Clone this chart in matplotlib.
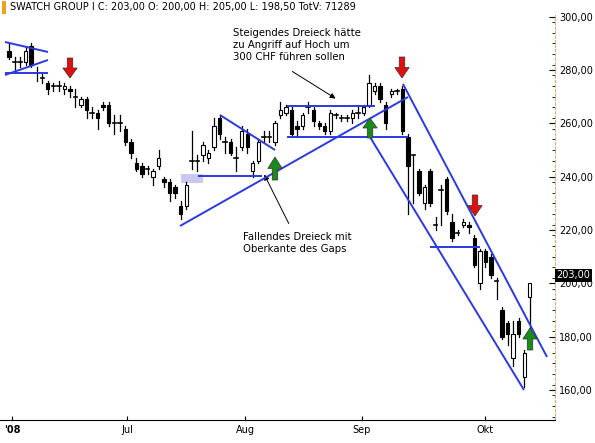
import matplotlib
matplotlib.use("Agg")
import matplotlib.pyplot as plt
from matplotlib.patches import Rectangle, FancyArrow
import numpy as np

opens = [287,283,283,283,289,279,277,275,274,274,273,273,270,267,269,264,264,267,267,260,260,258,253,245,244,243,240,244,239,238,236,229,229,246,246,248,247,251,262,253,253,247,251,256,242,246,255,255,253,263,264,265,259,
         259,266,265,260,259,257,263,262,262,262,264,264,267,272,274,267,271,272,273,255,248,242,230,242,222,235,239,223,219,222,222,217,200,212,210,201,190,185,172,186,165,195]
closes = [285,283,283,287,282,279,277,273,274,274,274,272,270,269,265,264,262,266,260,260,260,253,249,243,241,243,242,247,238,234,234,226,237,246,246,252,249,259,256,253,249,247,257,251,245,253,255,255,260,265,266,256,258,
          263,266,261,259,257,264,263,262,262,264,264,266,275,274,269,260,272,272,257,244,248,234,236,230,222,235,227,217,219,223,221,207,212,208,203,201,180,181,181,181,174,200]
highs = [290,285,285,289,290,281,279,276,275,276,275,274,273,270,270,266,265,268,268,263,263,259,254,247,245,244,243,250,240,239,237,231,238,257,248,253,250,262,263,255,254,251,259,258,246,254,257,257,261,268,267,266,261,
         264,268,266,261,260,265,264,263,263,265,266,267,278,275,275,268,273,273,274,256,248,243,237,243,225,237,240,226,220,224,223,218,213,213,211,202,191,186,186,187,175,197]
lows = [284,280,281,282,281,276,275,271,272,272,271,270,266,266,262,262,258,265,259,256,257,252,247,242,240,241,237,243,236,231,232,224,228,243,242,246,245,250,254,249,248,242,250,249,240,245,253,253,252,262,263,255,255,
        258,264,259,258,256,256,262,261,261,260,262,263,266,271,268,258,270,271,256,226,230,233,228,229,220,222,226,216,218,221,219,206,198,206,202,194,179,177,169,180,161,180]

yticks = [160,180,200,220,240,260,280,300]
month_labels = ["'08", "Jul", "Aug", "Sep", "Okt"]
month_px = [12, 127, 245, 362, 485]

W, H = 595, 443
fig = plt.figure(figsize=(W/100, H/100), dpi=100)
fig.patch.set_facecolor("white")
ax = fig.add_axes([0, 1-420/H, 555/W, 405/H])

def ix(px):  # pixel x -> index
    return (px-9)/5.54
def pr(py):  # pixel y -> price
    return 280-(py-70)/2.667

ax.set_xlim(ix(0), ix(555))
ax.set_ylim(pr(420), pr(15))

bw = 0.62
for i,(o,c,h,l) in enumerate(zip(opens,closes,highs,lows)):
    top, bot = max(o,c), min(o,c)
    ax.plot([i,i],[l,h],color="black",lw=0.9,zorder=2)
    if abs(o-c) < 0.6:
        ax.plot([i-bw/2,i+bw/2],[o,o],color="black",lw=1.2,zorder=3)
    else:
        fc = "black" if c < o else "white"
        ax.add_patch(Rectangle((i-bw/2,bot),bw,top-bot,facecolor=fc,edgecolor="black",lw=0.8,zorder=3))

blue = "#2a3ae0"
def line(x1,y1,x2,y2,lw=1.4):
    ax.plot([ix(x1),ix(x2)],[pr(y1),pr(y2)],color=blue,lw=lw,zorder=4,solid_capstyle="butt")
line(5,42,48,52); line(5,75,48,60); line(5,73,48,73)
line(220,115,275,150)
line(198,176,262,176)
line(180,226,408,97)
line(287,106,375,106); line(287,137,408,137)
line(403,84,547,357); line(370,137,524,390)
line(430,247,480,247)
ax.add_patch(Rectangle((ix(181),pr(183)),ix(203)-ix(181),pr(174)-pr(183),facecolor="#c8c8f0",edgecolor="none",zorder=1))

def arrow(px,py0,py1,color):
    x=ix(px); y0=pr(py0); y1=pr(py1)
    ax.add_patch(FancyArrow(x,y0,0,y1-y0,width=1.0,head_width=2.6,head_length=abs(y1-y0)*0.5,
                            length_includes_head=True,facecolor=color,edgecolor="#333333",lw=0.5,zorder=6))
arrow(70,58,78,"#e01010"); arrow(402,57,78,"#e01010"); arrow(475,195,216,"#e01010")
arrow(275,180,157,"#1a8a1a"); arrow(370,138,118,"#1a8a1a"); arrow(530,350,328,"#1a8a1a")

ax.text(ix(233),pr(45),"Steigendes Dreieck hätte\nzu Angriff auf Hoch um\n300 CHF führen sollen",fontsize=7.3,va="center",ha="left",linespacing=1.3)
ax.annotate("",xy=(ix(338),pr(100)),xytext=(ix(290),pr(70)),arrowprops=dict(arrowstyle="-|>",color="black",lw=0.7,mutation_scale=8))
ax.text(ix(243),pr(243),"Fallendes Dreieck mit\nOberkante des Gaps",fontsize=7.3,va="center",ha="left",linespacing=1.3)
ax.annotate("",xy=(ix(263),pr(172)),xytext=(ix(290),pr(226)),arrowprops=dict(arrowstyle="-|>",color="black",lw=0.7,mutation_scale=8))

ax.yaxis.tick_right()
ax.set_yticks(yticks)
ax.set_yticklabels([f"{v},00" for v in yticks],fontsize=7)
ax.set_yticks(np.arange(150,301,4),minor=True)
ax.tick_params(axis="y",which="major",length=4,direction="in",pad=3)
ax.tick_params(axis="y",which="minor",length=2,direction="in")
ax.set_xticks([ix(p) for p in month_px])
ax.set_xticklabels(month_labels,fontsize=7)
ax.get_xticklabels()[0].set_fontweight("bold")
ax.tick_params(axis="x",length=3,direction="in")
for s in ["top","left"]:
    ax.spines[s].set_visible(False)
ax.spines["right"].set_color("#d8b070"); ax.spines["right"].set_linestyle((0,(2,2)))
ax.text(1.003,203,"203,00",transform=ax.get_yaxis_transform(),fontsize=7,color="white",va="center",ha="left",
        bbox=dict(facecolor="black",edgecolor="none",pad=1),zorder=7)

fig.text(10/W,1-7/H,"SWATCH GROUP I C: 203,00 O: 200,00 H: 205,00 L: 198,50 TotV: 71289",fontsize=7,va="center",ha="left")
fig.patches.append(Rectangle((2/W,1-14/H),4/W,13/H,transform=fig.transFigure,facecolor="#f0a020",edgecolor="none"))
fig.savefig("out.png",dpi=100)
